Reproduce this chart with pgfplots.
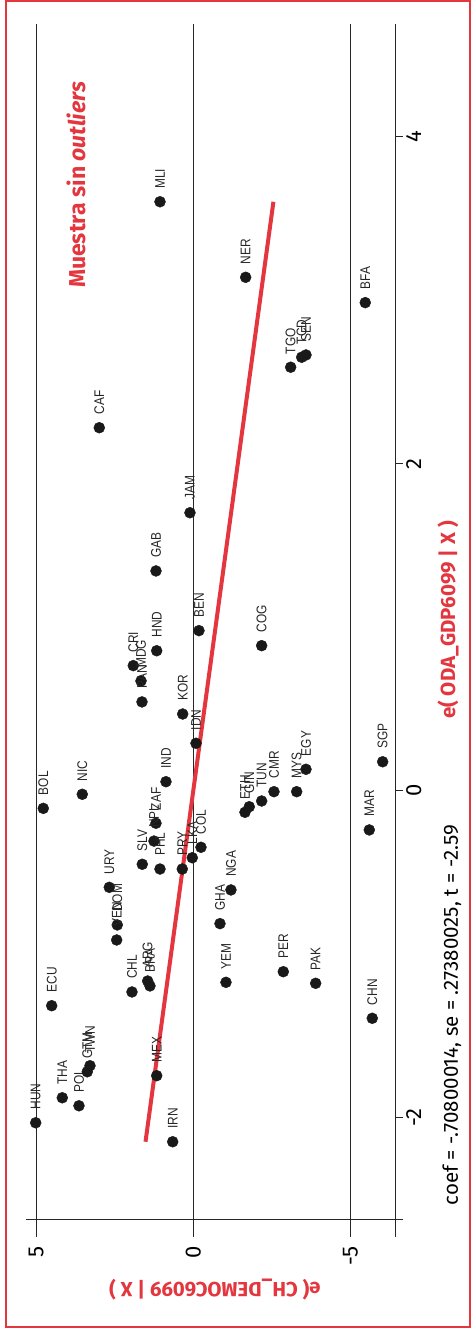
\documentclass[border=0pt]{standalone}
\usepackage{pgfplots}
\pgfplotsset{compat=1.18}
\usepackage{pgfplotstable}
\usepackage{fontspec}
\setmainfont{Fira Sans}
\newfontfamily\labfont[FakeStretch=0.85]{Liberation Sans}
\definecolor{rojo}{RGB}{228,54,62}
\definecolor{punto}{RGB}{25,25,25}

\pgfplotstableread{
x y label
1.059 3.602 MLI
-1.667 3.140 NER
-5.472 2.985 BFA
-3.099 2.590 TGO
-3.449 2.651 TCD
-3.586 2.665 SEN
2.991 2.220 CAF
0.105 1.700 JAM
1.187 1.344 GAB
-0.181 0.979 BEN
-2.176 0.887 COG
1.164 0.856 HND
1.909 0.765 CRI
1.664 0.671 MDG
1.632 0.543 PAN
0.337 0.469 KOR
-0.086 0.290 IDN
0.869 0.055 IND
4.773 -0.108 BOL
3.532 -0.022 NIC
-6.026 0.177 SGP
-3.586 0.131 EGY
-3.290 -0.006 MYS
-2.568 -0.006 CMR
-2.176 -0.063 TUN
-1.782 -0.098 GIN
-1.645 -0.132 ETH
1.187 -0.199 ZAF
1.250 -0.308 NPL
1.623 -0.450 SLV
1.059 -0.479 PHL
0.350 -0.479 PRY
0.032 -0.410 LKA
-0.245 -0.346 COL
2.673 -0.591 URY
2.418 -0.821 DOM
2.437 -0.913 VEN
-1.199 -0.607 NGA
-0.850 -0.813 GHA
1.950 -1.231 CHL
1.451 -1.164 ARG
1.378 -1.194 BRA
-1.040 -1.172 YEM
-2.864 -1.107 PER
-3.894 -1.178 PAK
4.505 -1.315 ECU
-5.695 -1.392 CHN
-5.600 -0.240 MAR
5.014 -2.031 HUN
4.168 -1.878 THA
3.637 -1.927 POL
3.373 -1.719 GTM
3.287 -1.682 TWN
1.164 -1.743 MEX
0.655 -2.147 IRN
}\pts

\begin{document}
\begin{tikzpicture}
\begin{axis}[
  scale only axis, width=369.3pt, height=1195.3pt,
  xmin=-6.427, xmax=5.323, ymin=-2.621, ymax=4.689,
  x dir=reverse, hide axis, clip=false]
% grid lines
\draw[black!85, line width=0.8pt] (axis cs:5,4.689) -- (axis cs:5,-2.730);
\draw[black!85, line width=0.8pt] (axis cs:0,4.689) -- (axis cs:0,-2.730);
\draw[black!85, line width=0.8pt] (axis cs:-5,4.689) -- (axis cs:-5,-2.730);
% axes
\draw[black!85, line width=0.8pt] (axis cs:5.323,-2.621) -- (axis cs:-6.662,-2.621);
\draw[black!85, line width=0.8pt] (axis cs:-6.427,4.689) -- (axis cs:-6.427,-2.730);
% ODA ticks
\draw[black!85, line width=0.8pt] (axis cs:-6.427,-2) -- (axis cs:-6.662,-2);
\draw[black!85, line width=0.8pt] (axis cs:-6.427,0) -- (axis cs:-6.662,0);
\draw[black!85, line width=0.8pt] (axis cs:-6.427,2) -- (axis cs:-6.662,2);
\draw[black!85, line width=0.8pt] (axis cs:-6.427,4) -- (axis cs:-6.662,4);
% tick labels
\node[rotate=90, anchor=east, inner sep=0pt, font=\fontsize{22}{22}\selectfont] at (axis cs:5,-2.785) {5};
\node[rotate=90, anchor=east, inner sep=0pt, font=\fontsize{22}{22}\selectfont] at (axis cs:0,-2.785) {0};
\node[rotate=90, anchor=east, inner sep=0pt, font=\fontsize{22}{22}\selectfont] at (axis cs:-5,-2.785) {-5};
\node[rotate=90, anchor=north, inner sep=0pt, font=\fontsize{22}{22}\selectfont] at (axis cs:-6.767,-2) {-2};
\node[rotate=90, anchor=north, inner sep=0pt, font=\fontsize{22}{22}\selectfont] at (axis cs:-6.767,0) {0};
\node[rotate=90, anchor=north, inner sep=0pt, font=\fontsize{22}{22}\selectfont] at (axis cs:-6.767,2) {2};
\node[rotate=90, anchor=north, inner sep=0pt, font=\fontsize{22}{22}\selectfont] at (axis cs:-6.767,4) {4};
% fitted line
\addplot[rojo, line width=4pt] coordinates {(1.520,-2.147) (-2.550,3.602)};
% points
\addplot[only marks, mark=*, mark size=5.5pt,
  mark options={fill=punto, draw=punto},
  nodes near coords, point meta=explicit symbolic,
  every node near coord/.append style={rotate=90, anchor=west, inner xsep=13pt, inner ysep=0pt,
    font=\labfont\fontsize{14}{14}\selectfont, text=black!85}]
  table[x=x, y=y, meta=label] {\pts};
% titles
\node[rotate=90, text=rojo, font=\bfseries\fontsize{23}{23}\selectfont] at (axis cs:3.732,3.705) {Muestra sin \textit{outliers}};
\node[rotate=90, text=rojo, font=\bfseries\fontsize{20.5}{20.5}\selectfont] at (axis cs:-8.104,1.044) {e( ODA\_GDP6099 | X )};
\node[rotate=90, font=\fontsize{20.5}{20.5}\selectfont] at (axis cs:-8.231,-1.372) {coef = -.70800014, se = .27380025, t = -2.59};
\node[rotate=180, text=rojo, font=\bfseries\fontsize{20.5}{20.5}\selectfont] at (axis cs:-0.690,-3.054) {e( CH\_DEMOC6099 | X )};
% frame
\draw[rojo, line width=2.5pt] (axis cs:5.959,4.830) rectangle (axis cs:-8.804,-3.280);
\coordinate (bl) at (axis cs:6.150,-3.329);
\coordinate (tr) at (axis cs:-8.931,4.836);
\end{axis}
\pgfresetboundingbox
\path (bl) rectangle (tr);
\end{tikzpicture}
\end{document}
